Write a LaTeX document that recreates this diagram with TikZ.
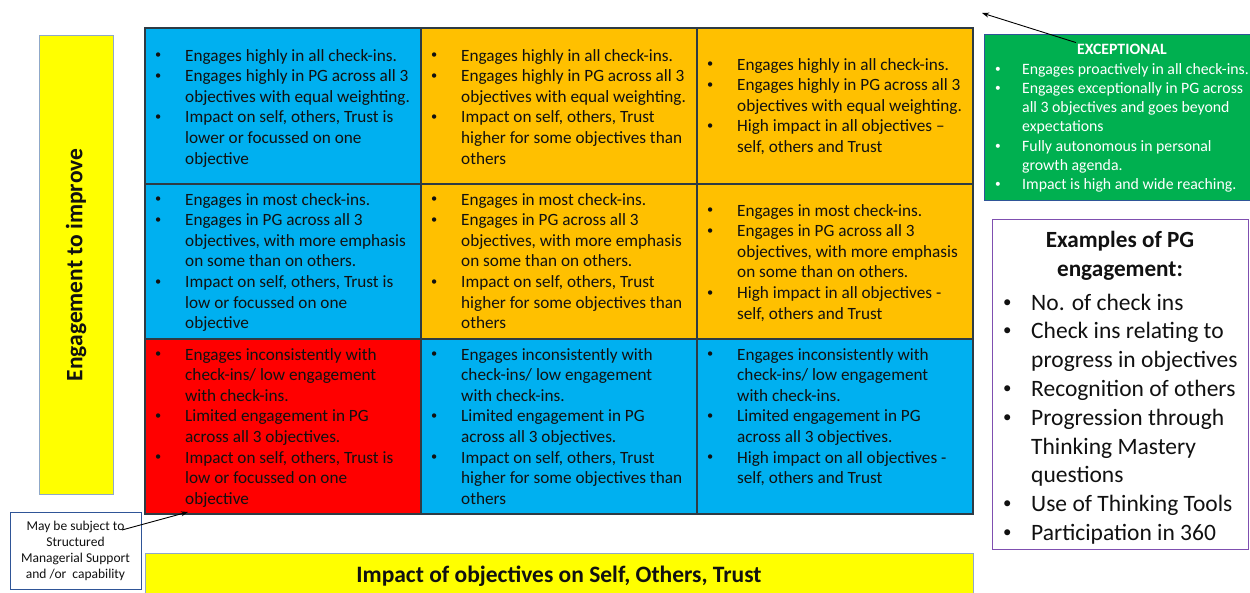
\documentclass[tikz,border=0pt]{standalone}
\usepackage{fontspec}
\usepackage{graphicx}
\setmainfont{Carlito}
\usetikzlibrary{arrows.meta}
\definecolor{cblue}{HTML}{00B0F0}
\definecolor{corange}{HTML}{FFC000}
\definecolor{cred}{HTML}{FF0000}
\definecolor{cyellow}{HTML}{FFFF00}
\definecolor{cgreen}{HTML}{00B050}
\definecolor{gridline}{HTML}{2E3B44}
\definecolor{navy}{HTML}{2F5597}
\definecolor{steel}{HTML}{8FA8C8}
\definecolor{purp}{HTML}{7F4FB0}
\definecolor{txt}{HTML}{111111}
\newcommand{\cellfont}{\fontsize{17.2}{20.6}\selectfont}
\newcommand{\greenfont}{\fontsize{15.8}{19.3}\selectfont}
\newcommand{\exfont}{\fontsize{23.5}{28.8}\selectfont}
\newcommand{\blist}[1]{\begin{tabular}[t]{@{}p{30pt}@{}l@{}}#1\end{tabular}}
\newcommand{\glist}[1]{\begin{tabular}[t]{@{}p{27pt}@{}l@{}}#1\end{tabular}}
\newcommand{\elist}[1]{\begin{tabular}[t]{@{}p{28pt}@{}l@{}}#1\end{tabular}}
\newcommand{\bu}{\raisebox{0.12em}{\scalebox{0.72}{\textbullet}}}
\tikzset{
  cellbox/.style={draw=gridline, line width=1.2pt, inner sep=0pt},
  celltext/.style={anchor=base west, inner sep=0pt, font=\cellfont, text=txt},
  axisbox/.style={draw=steel, line width=0.8pt, fill=cyellow, inner sep=0pt},
  axistext/.style={font=\fontsize{23.5}{26}\selectfont\bfseries, text=txt, inner sep=0pt},
  arr/.style={-{Stealth[length=7pt,width=5pt]}, line width=0.9pt, black}
}
\begin{document}
\begin{tikzpicture}[x=1pt,y=-1pt]
\useasboundingbox (0,0) rectangle (1250,592);
% grid cells
\node[cellbox, fill=cblue,   minimum width=276pt, minimum height=156pt] (c11) at (283,106) {};
\node[cellbox, fill=corange, minimum width=276pt, minimum height=156pt] (c12) at (559,106) {};
\node[cellbox, fill=corange, minimum width=276pt, minimum height=156pt] (c13) at (835,106) {};
\node[cellbox, fill=cblue,   minimum width=276pt, minimum height=155pt] (c21) at (283,261.5) {};
\node[cellbox, fill=corange, minimum width=276pt, minimum height=155pt] (c22) at (559,261.5) {};
\node[cellbox, fill=corange, minimum width=276pt, minimum height=155pt] (c23) at (835,261.5) {};
\node[cellbox, fill=cred,    minimum width=276pt, minimum height=175pt] (c31) at (283,426.5) {};
\node[cellbox, fill=cblue,   minimum width=276pt, minimum height=175pt] (c32) at (559,426.5) {};
\node[cellbox, fill=cblue,   minimum width=276pt, minimum height=175pt] (c33) at (835,426.5) {};
% cell texts
\node[celltext] (t11) at (155,61) {\blist{\bu & Engages highly in all check-ins.\\
\bu & Engages highly in PG across all 3\\ & objectives with equal weighting.\\
\bu & Impact on self, others, Trust is\\ & lower or focussed on one\\ & objective}};
\node[celltext] (t12) at (431,61) {\blist{\bu & Engages highly in all check-ins.\\
\bu & Engages highly in PG across all 3\\ & objectives with equal weighting.\\
\bu & Impact on self, others, Trust\\ & higher for some objectives than\\ & others}};
\node[celltext] (t13) at (707,70) {\blist{\bu & Engages highly in all check-ins.\\
\bu & Engages highly in PG across all 3\\ & objectives with equal weighting.\\
\bu & High impact in all objectives --\\ & self, others and Trust}};
\node[celltext] (t21) at (155,205) {\blist{\bu & Engages in most check-ins.\\
\bu & Engages in PG across all 3\\ & objectives, with more emphasis\\ & on some than on others.\\
\bu & Impact on self, others, Trust is\\ & low or focussed on one\\ & objective}};
\node[celltext] (t22) at (431,205) {\blist{\bu & Engages in most check-ins.\\
\bu & Engages in PG across all 3\\ & objectives, with more emphasis\\ & on some than on others.\\
\bu & Impact on self, others, Trust\\ & higher for some objectives than\\ & others}};
\node[celltext] (t23) at (707,216) {\blist{\bu & Engages in most check-ins.\\
\bu & Engages in PG across all 3\\ & objectives, with more emphasis\\ & on some than on others.\\
\bu & High impact in all objectives -\\ & self, others and Trust}};
\node[celltext] (t31) at (155,360) {\blist{\bu & Engages inconsistently with\\ & check-ins/ low engagement\\ & with check-ins.\\
\bu & Limited engagement in PG\\ & across all 3 objectives.\\
\bu & Impact on self, others, Trust is\\ & low or focussed on one\\ & objective}};
\node[celltext] (t32) at (431,360) {\blist{\bu & Engages inconsistently with\\ & check-ins/ low engagement\\ & with check-ins.\\
\bu & Limited engagement in PG\\ & across all 3 objectives.\\
\bu & Impact on self, others, Trust\\ & higher for some objectives than\\ & others}};
\node[celltext] (t33) at (707,360) {\blist{\bu & Engages inconsistently with\\ & check-ins/ low engagement\\ & with check-ins.\\
\bu & Limited engagement in PG\\ & across all 3 objectives.\\
\bu & High impact on all objectives -\\ & self, others and Trust}};
% axis boxes
\node[axisbox, minimum width=74pt, minimum height=459pt] (yax) at (76,264.5) {};
\node[axistext, rotate=90] (yaxt) at (76,265) {Engagement to improve};
\node[axisbox, minimum width=828pt, minimum height=42pt] (xax) at (559,574) {};
\node[axistext] (xaxt) at (559,576) {Impact of objectives on Self, Others, Trust};
% exceptional box
\node[draw=navy, line width=1pt, fill=cgreen, minimum width=266pt, minimum height=166pt, inner sep=0pt] (exbox) at (1117,117) {};
\node[font=\fontsize{15.8}{18}\selectfont\bfseries, text=white, inner sep=1pt] (exc) at (1122,49) {EXCEPTIONAL};
\node[anchor=base west, inner sep=0pt, font=\greenfont, text=white] (exl) at (995,74) {\glist{\bu & Engages proactively in all check-ins.\\
\bu & Engages exceptionally in PG across\\ & all 3 objectives and goes beyond\\ & expectations\\
\bu & Fully autonomous in personal\\ & growth agenda.\\
\bu & Impact is high and wide reaching.}};
\coordinate (topend) at (982,13);
\draw[arr] (exc.north west) -- (topend);
% examples box
\node[draw=purp, line width=1pt, fill=white, minimum width=256pt, minimum height=330pt, inner sep=0pt] (exmp) at (1120,384) {};
\node[anchor=base, inner sep=0pt, align=center, font=\fontsize{23.2}{29}\selectfont\bfseries, text=txt] (exmpt) at (1120,276) {Examples of PG\\engagement:};
\node[anchor=base west, inner sep=0pt, font=\exfont, text=txt] (exmpl) at (1003,310) {\elist{\bu & No. of check ins\\
\bu & Check ins relating to\\ & progress in objectives\\
\bu & Recognition of others\\
\bu & Progression through\\ & Thinking Mastery\\ & questions\\
\bu & Use of Thinking Tools\\
\bu & Participation in 360}};
% small note box
\node[draw=navy, line width=1pt, fill=white, minimum width=131pt, minimum height=77pt, inner sep=0pt] (note) at (75.5,550.5) {};
\node[align=center, inner sep=0pt, font=\fontsize{13.5}{16}\selectfont, text=txt] (notet) at (75.5,551) {May be subject to\\Structured\\Managerial Support\\and /or\ \ capability};
\coordinate (noteto) at (122,530);
\coordinate (redpt) at (188,512);
\draw[arr] (noteto) -- (redpt);
\end{tikzpicture}
\end{document}
